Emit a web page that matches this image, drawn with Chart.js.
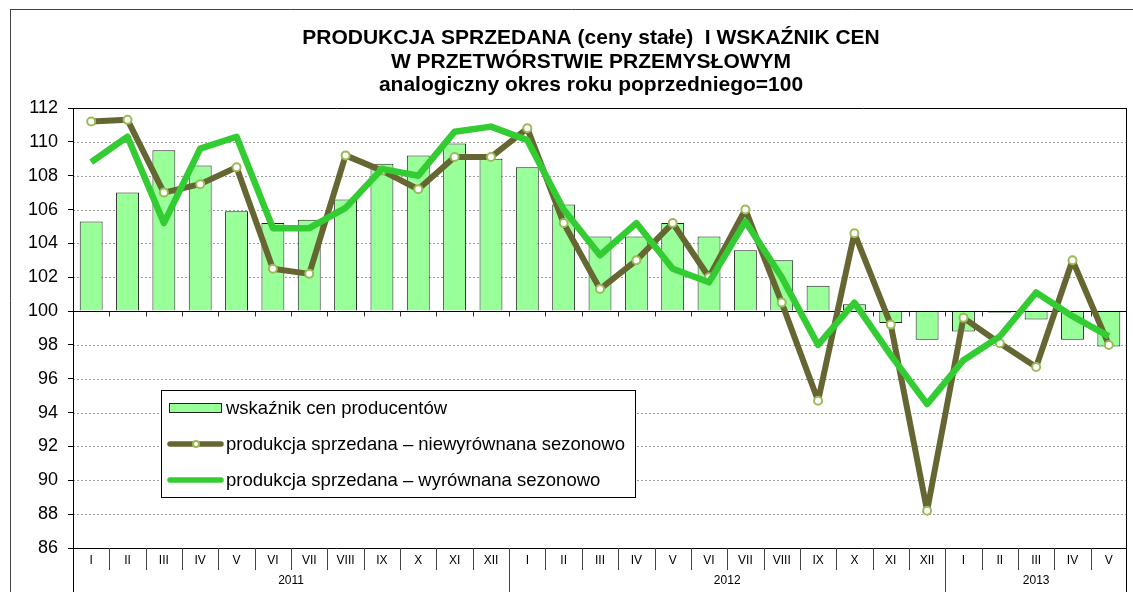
<!DOCTYPE html>
<html lang="pl">
<head>
<meta charset="utf-8">
<title>Produkcja sprzedana i wskaźnik cen</title>
<script src="https://cdn.jsdelivr.net/npm/chart.js@4.4.1/dist/chart.umd.min.js"></script>
<style>
  html, body { margin: 0; padding: 0; background: #fff; }
  canvas { display: block; }
</style>
</head>
<body>
<canvas id="chart" width="1133" height="592"></canvas>
<script>
const months = [
  "I", "II", "III", "IV", "V", "VI", "VII", "VIII", "IX", "X", "XI", "XII",
  "I", "II", "III", "IV", "V", "VI", "VII", "VIII", "IX", "X", "XI", "XII",
  "I", "II", "III", "IV", "V"
];
const yearLabels = ["2011", "2012", "2013"];
const yearSpans = [12, 12, 5];

// wskaźnik cen producentów
const priceIndex = [
  105.3, 107.0, 109.5, 108.6, 105.9, 105.2, 105.4, 106.6, 108.7, 109.2, 109.9, 109.0,
  108.5, 106.3, 104.4, 104.4, 105.2, 104.4, 103.6, 103.0, 101.5, 100.4, 99.3, 98.3,
  98.8, 99.9, 99.5, 98.3, 97.9
];
// produkcja sprzedana – niewyrównana sezonowo
const prodRaw = [
  111.2, 111.3, 107.0, 107.5, 108.5, 102.5, 102.2, 109.2, 108.3, 107.2, 109.1, 109.1,
  110.8, 105.2, 101.3, 103.0, 105.2, 102.0, 106.0, 100.5, 94.7, 104.6, 99.2, 88.2,
  99.6, 98.1, 96.7, 103.0, 98.0
];
// produkcja sprzedana – wyrównana sezonowo
const prodSa = [
  108.8, 110.3, 105.2, 109.6, 110.3, 104.9, 104.9, 106.1, 108.4, 108.0, 110.6, 110.9,
  110.1, 106.0, 103.3, 105.2, 102.5, 101.7, 105.3, 102.0, 98.0, 100.5, 97.4, 94.5,
  97.1, 98.5, 101.1, 99.7, 98.5
];

const titleLines = [
  "PRODUKCJA SPRZEDANA (ceny stałe)  I WSKAŹNIK CEN",
  "W PRZETWÓRSTWIE PRZEMYSŁOWYM",
  "analogiczny okres roku poprzedniego=100"
];
const legendLabels = [
  "wskaźnik cen producentów",
  "produkcja sprzedana – niewyrównana sezonowo",
  "produkcja sprzedana – wyrównana sezonowo"
];

const FONT = '"Liberation Sans", Arial, sans-serif';
const BAR_FILL = "#99ff99";
const DARK = "#666633";
const MARKER = "#9bbb59";
const GREEN = "#33cc33";

function hline(ctx, x1, x2, y) {
  ctx.beginPath();
  ctx.moveTo(x1, y);
  ctx.lineTo(x2, y);
  ctx.stroke();
}
function vline(ctx, x, y1, y2) {
  ctx.beginPath();
  ctx.moveTo(x, y1);
  ctx.lineTo(x, y2);
  ctx.stroke();
}

const decor = {
  id: "decor",
  beforeDatasetsDraw(chart) {
    const { ctx, chartArea: a, scales: { y } } = chart;
    ctx.save();
    ctx.strokeStyle = "#9a9a9a";
    ctx.lineWidth = 1;
    ctx.setLineDash([2, 2]);
    y.ticks.forEach((t) => {
      if (t.value === 100 || t.value === y.min || t.value === y.max) return;
      hline(ctx, a.left, a.right, Math.round(y.getPixelForValue(t.value)) + 0.5);
    });
    ctx.restore();
  },
  afterDatasetDraw(chart, args) {
    if (args.index !== 0) return;
    const { ctx, chartArea: a, scales: { x, y } } = chart;
    const y100 = Math.round(y.getPixelForValue(100)) + 0.5;
    const half = (a.right - a.left) / months.length / 2;
    ctx.save();
    ctx.strokeStyle = "#000";
    ctx.lineWidth = 1;
    hline(ctx, a.left, a.right, y100);
    ctx.strokeStyle = "#333";
    for (let i = 0; i < months.length - 1; i++) {
      const bx = Math.round(x.getPixelForValue(i) + half) + 0.5;
      vline(ctx, bx, y100, y100 + 5);
    }
    ctx.restore();
  },
  afterDraw(chart) {
    const { ctx, chartArea: a, scales: { x } } = chart;
    const half = (a.right - a.left) / months.length / 2;
    ctx.save();

    // outer frame
    ctx.strokeStyle = "#444";
    ctx.lineWidth = 1;
    hline(ctx, 10, chart.width, 9.5);
    vline(ctx, 10.5, 9, chart.height);

    // plot border and axes
    ctx.strokeStyle = "#000";
    hline(ctx, a.left, a.right, Math.round(a.top) + 0.5);
    hline(ctx, a.left, a.right, Math.round(a.bottom) + 0.5);
    vline(ctx, Math.round(a.left) + 0.5, a.top, chart.height);
    vline(ctx, Math.round(a.right) - 0.5, a.top, chart.height);

    // category axis: months, years, separators
    ctx.fillStyle = "#000";
    ctx.font = `12px ${FONT}`;
    ctx.textAlign = "center";
    ctx.textBaseline = "middle";
    months.forEach((m, i) => {
      ctx.fillText(m, x.getPixelForValue(i), a.bottom + 13);
    });
    ctx.strokeStyle = "#444";
    let yearEnds = [];
    let acc = 0;
    yearSpans.forEach((n) => { acc += n; yearEnds.push(acc - 1); });
    for (let i = 0; i < months.length - 1; i++) {
      const bx = Math.round(x.getPixelForValue(i) + half) + 0.5;
      const isYear = yearEnds.includes(i);
      vline(ctx, bx, a.bottom, isYear ? chart.height : a.bottom + 22);
    }
    let start = 0;
    yearLabels.forEach((lab, k) => {
      const end = start + yearSpans[k] - 1;
      const cx = (x.getPixelForValue(start) + x.getPixelForValue(end)) / 2;
      ctx.fillText(lab, cx, a.bottom + 33);
      start = end + 1;
    });

    // title
    ctx.font = `bold 21px ${FONT}`;
    ctx.textBaseline = "alphabetic";
    const tx = (a.left + a.right) / 2 - 9;
    titleLines.forEach((t, i) => ctx.fillText(t, tx, 44 + i * 23.5));

    // legend
    const lx = 161, ly = 390, lw = 474, lh = 107;
    ctx.fillStyle = "#fff";
    ctx.fillRect(lx, ly, lw, lh);
    ctx.strokeStyle = "#000";
    ctx.strokeRect(lx + 0.5, ly + 0.5, lw, lh);
    const rows = [408, 444, 480];
    ctx.fillStyle = BAR_FILL;
    ctx.fillRect(169, rows[0] - 5, 53, 10);
    ctx.strokeStyle = "#222";
    ctx.strokeRect(169.5, rows[0] - 4.5, 52, 9);
    ctx.lineWidth = 5.5;
    ctx.lineCap = "round";
    ctx.strokeStyle = DARK;
    hline(ctx, 170, 221, rows[1]);
    ctx.strokeStyle = GREEN;
    hline(ctx, 170, 221, rows[2]);
    ctx.beginPath();
    ctx.arc(196, rows[1], 3, 0, Math.PI * 2);
    ctx.fillStyle = "#fff";
    ctx.fill();
    ctx.lineWidth = 2;
    ctx.strokeStyle = MARKER;
    ctx.stroke();
    ctx.fillStyle = "#000";
    ctx.font = `18.5px ${FONT}`;
    ctx.textAlign = "left";
    ctx.textBaseline = "middle";
    legendLabels.forEach((t, i) => ctx.fillText(t, 226, rows[i] + 1));

    ctx.restore();
  }
};

new Chart(document.getElementById("chart"), {
  type: "bar",
  data: {
    labels: months,
    datasets: [
      {
        label: legendLabels[0],
        data: priceIndex,
        base: 100,
        backgroundColor: BAR_FILL,
        borderColor: "#222",
        borderWidth: 1,
        barPercentage: 0.63,
        categoryPercentage: 1,
        order: 3
      },
      {
        type: "line",
        label: legendLabels[1],
        data: prodRaw,
        borderColor: DARK,
        borderWidth: 6,
        borderJoinStyle: "round",
        pointRadius: 4,
        pointBorderWidth: 2,
        pointBackgroundColor: "#fff",
        pointBorderColor: MARKER,
        tension: 0,
        order: 2
      },
      {
        type: "line",
        label: legendLabels[2],
        data: prodSa,
        borderColor: GREEN,
        borderWidth: 6.5,
        borderJoinStyle: "round",
        pointRadius: 0,
        tension: 0,
        order: 1
      }
    ]
  },
  options: {
    responsive: false,
    animation: false,
    layout: { padding: { top: 108, bottom: 44, left: 0, right: 5 } },
    plugins: { legend: { display: false }, tooltip: { enabled: false }, title: { display: false } },
    scales: {
      x: { display: false, offset: true },
      y: {
        min: 86,
        max: 112,
        afterFit(scale) { scale.width = 73; },
        border: { display: false },
        grid: { drawOnChartArea: false, drawTicks: true, tickLength: 5, color: "#000" },
        ticks: {
          stepSize: 2,
          padding: 10,
          color: "#000",
          font: { family: FONT, size: 18 }
        }
      }
    }
  },
  plugins: [decor]
});
</script>
</body>
</html>
